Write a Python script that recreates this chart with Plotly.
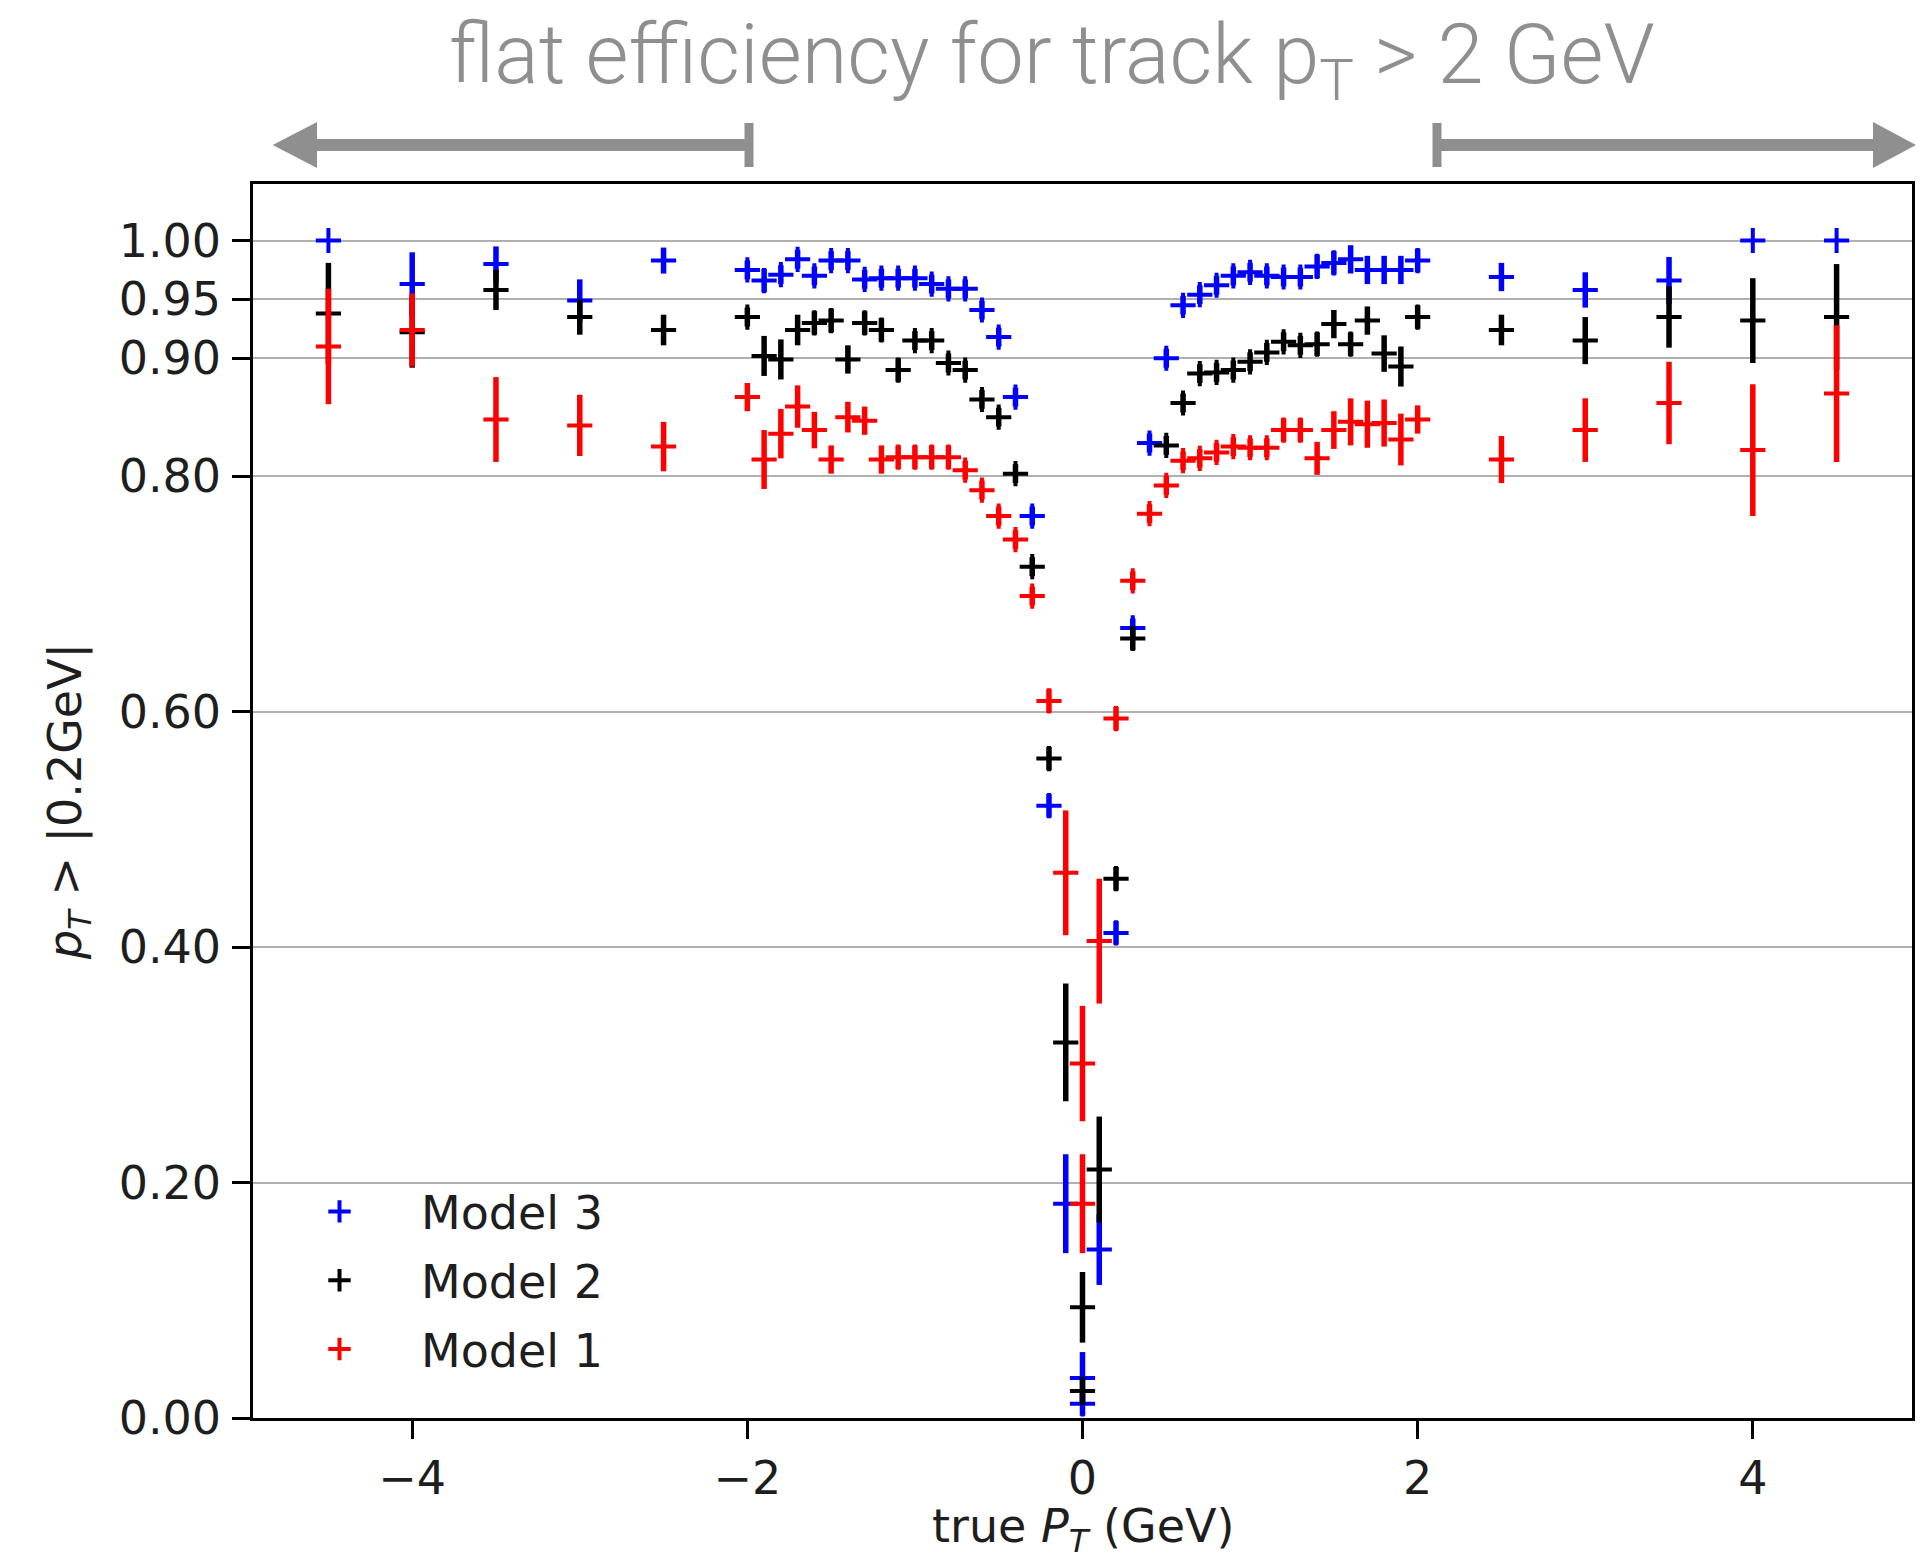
import plotly.graph_objects as go

# ---------------- data ----------------
x_pt = [-4.5, -4.0, -3.5, -3.0, -2.5,
        -2.0, -1.9, -1.8, -1.7, -1.6, -1.5, -1.4, -1.3, -1.2, -1.1, -1.0,
        -0.9, -0.8, -0.7, -0.6, -0.5, -0.4, -0.3, -0.2, -0.1, 0.0,
        0.0, 0.1, 0.2, 0.3, 0.4, 0.5, 0.6, 0.7, 0.8, 0.9, 1.0,
        1.1, 1.2, 1.3, 1.4, 1.5, 1.6, 1.7, 1.8, 1.9, 2.0,
        2.5, 3.0, 3.5, 4.0, 4.5]

eff_model3 = [1.000, 0.963, 0.980, 0.949, 0.983,
              0.975, 0.966, 0.971, 0.984, 0.970, 0.983, 0.983, 0.967, 0.968, 0.968, 0.968,
              0.963, 0.959, 0.959, 0.941, 0.918, 0.867, 0.766, 0.520, 0.182, 0.034,
              0.012, 0.143, 0.412, 0.671, 0.828, 0.900, 0.945, 0.954, 0.962, 0.970, 0.973,
              0.970, 0.969, 0.969, 0.978, 0.981, 0.984, 0.975, 0.975, 0.975, 0.983,
              0.969, 0.958, 0.966, 1.000, 1.000]
err_model3 = [0.0, 0.027, 0.015, 0.018, 0.011,
              0.008, 0.010, 0.008, 0.008, 0.008, 0.008, 0.008, 0.008, 0.008, 0.008, 0.008,
              0.008, 0.008, 0.008, 0.008, 0.008, 0.008, 0.008, 0.010, 0.042, 0.022,
              0.010, 0.030, 0.010, 0.008, 0.008, 0.008, 0.008, 0.008, 0.008, 0.008, 0.008,
              0.008, 0.008, 0.008, 0.010, 0.010, 0.012, 0.012, 0.012, 0.012, 0.010,
              0.012, 0.015, 0.020, 0.0, 0.0]

eff_model2 = [0.938, 0.922, 0.958, 0.935, 0.924,
              0.935, 0.902, 0.899, 0.924, 0.930, 0.932, 0.899, 0.930, 0.924, 0.890, 0.915,
              0.915, 0.896, 0.890, 0.865, 0.850, 0.802, 0.723, 0.560, 0.319, 0.094,
              0.023, 0.211, 0.458, 0.662, None, 0.826, 0.862, 0.887, 0.888, 0.890, 0.897,
              0.905, 0.914, 0.911, 0.912, 0.929, 0.912, 0.932, 0.904, 0.893, 0.935,
              0.924, 0.915, 0.935, 0.932, 0.935]
err_model2 = [0.043, 0.030, 0.017, 0.015, 0.013,
              0.008, 0.017, 0.017, 0.013, 0.010, 0.010, 0.012, 0.010, 0.010, 0.010, 0.008,
              0.008, 0.008, 0.008, 0.008, 0.008, 0.008, 0.008, 0.010, 0.050, 0.030,
              0.012, 0.045, 0.010, 0.010, 0.0, 0.008, 0.008, 0.008, 0.008, 0.008, 0.008,
              0.008, 0.008, 0.008, 0.010, 0.012, 0.010, 0.012, 0.0155, 0.017, 0.010,
              0.013, 0.020, 0.026, 0.036, 0.045]

eff_model1 = [0.910, 0.924, 0.848, 0.843, 0.825,
              0.867, 0.814, 0.836, 0.859, 0.839, 0.814, 0.850, 0.847, 0.814, 0.816, 0.816,
              0.816, 0.816, 0.805, 0.788, 0.766, 0.746, 0.698, 0.609, 0.463, 0.301,
              0.182, 0.405, 0.594, 0.711, 0.768, 0.792, 0.813, 0.815, 0.820, 0.825, 0.824,
              0.824, 0.839, 0.839, 0.815, 0.839, 0.846, 0.844, 0.845, 0.831, 0.848,
              0.814, 0.839, 0.862, 0.822, 0.870]
err_model1 = [0.049, 0.031, 0.036, 0.026, 0.021,
              0.012, 0.025, 0.021, 0.018, 0.0155, 0.012, 0.013, 0.012, 0.012, 0.010, 0.010,
              0.010, 0.010, 0.008, 0.008, 0.008, 0.008, 0.008, 0.010, 0.053, 0.049,
              0.042, 0.053, 0.010, 0.008, 0.008, 0.008, 0.008, 0.008, 0.008, 0.008, 0.008,
              0.008, 0.010, 0.010, 0.014, 0.016, 0.020, 0.020, 0.020, 0.022, 0.012,
              0.020, 0.027, 0.035, 0.056, 0.058]

series_names = ["Model 3", "Model 2", "Model 1"]
series_colors = ["#0000ff", "#000000", "#ff0000"]

y_tick_vals = [0.0, 0.2, 0.4, 0.6, 0.8, 0.9, 0.95, 1.0]
y_tick_text = ["0.00", "0.20", "0.40", "0.60", "0.80", "0.90", "0.95", "1.00"]
x_tick_vals = [-4, -2, 0, 2, 4]
x_tick_text = ["\u22124", "\u22122", "0", "2", "4"]

x_title = "true <i>P</i><sub><i>T</i></sub> (GeV)"
y_title = "<i>p</i><sub><i>T</i></sub> > |0.2GeV|"
header = "flat efficiency for track p<sub>T</sub> > 2 GeV"

# ---------------- figure geometry ----------------
W, H = 1926, 1563
L, R, T, B = 253, 1912, 184, 1418


def pxx(p):
    return (p - L) / (R - L)


def pxy(p):
    return (B - p) / (B - T)


FONT = "DejaVu Sans"
FS = 46
TXT = "#1e1e1e"
GRAY = "#8f8f8f"

fig = go.Figure()
for name, color, eff, err in zip(series_names, series_colors,
                                 [eff_model3, eff_model2, eff_model1],
                                 [err_model3, err_model2, err_model1]):
    fig.add_trace(go.Scatter(
        x=x_pt, y=eff, mode="markers", name=name,
        legendgroup=name,
        marker=dict(symbol="cross-thin", size=18, color=color,
                    line=dict(color=color, width=4)),
        error_y=dict(type="data", array=err, visible=True,
                     color=color, thickness=5.5, width=0),
    ))

fig.update_layout(
    width=W, height=H,
    margin=dict(l=L, r=W - R, t=T, b=H - B, autoexpand=False),
    paper_bgcolor="white", plot_bgcolor="white",
    font=dict(family=FONT, size=FS, color=TXT),
    showlegend=True,
    legend=dict(x=pxx(258), y=pxy(1175), xanchor="left", yanchor="top",
                bgcolor="rgba(0,0,0,0)", borderwidth=0,
                font=dict(family=FONT, size=FS, color=TXT),
                itemwidth=153, tracegroupgap=6),
)

fig.update_xaxes(
    automargin=False,
    range=[-4.95, 4.95], showgrid=False, zeroline=False,
    tickmode="array", tickvals=x_tick_vals, ticktext=x_tick_text,
    ticks="outside", ticklen=18, tickwidth=2.5, tickcolor="black",
    showline=True, linecolor="black", linewidth=2.5, mirror=True,
    tickfont=dict(family=FONT, size=FS, color=TXT),
)
fig.update_yaxes(
    automargin=False,
    range=[0, 1.048], showgrid=True, gridcolor="#b0b0b0", gridwidth=2,
    zeroline=False,
    tickmode="array", tickvals=y_tick_vals, ticktext=y_tick_text,
    ticks="outside", ticklen=18, tickwidth=2.5, tickcolor="black",
    ticklabelstandoff=2,
    showline=True, linecolor="black", linewidth=2.5, mirror=True,
    tickfont=dict(family=FONT, size=FS, color=TXT),
    title=dict(text=y_title,
               font=dict(family=FONT, size=FS, color=TXT), standoff=23),
)

# x-axis title, sitting at the lower edge of the canvas like the reference
fig.add_annotation(
    xref="paper", yref="paper", x=0.5, y=pxy(1562),
    xanchor="center", yanchor="bottom", showarrow=False,
    text=x_title, font=dict(family=FONT, size=FS, color=TXT),
)

# ---------------- header annotation and arrows ----------------
fig.add_annotation(
    xref="paper", yref="paper", x=pxx(1052), y=pxy(60),
    xanchor="center", yanchor="middle", showarrow=False,
    text=header,
    font=dict(family="Roboto", size=83, color=GRAY, weight=300),
)

arrow_y = 145
shapes = []
# left arrow
shapes.append(dict(type="path", xref="paper", yref="paper",
                   path=f"M {pxx(272.7)},{pxy(arrow_y)} L {pxx(317)},{pxy(122)} "
                        f"L {pxx(317)},{pxy(168)} Z",
                   fillcolor=GRAY, line=dict(width=0)))
shapes.append(dict(type="line", xref="paper", yref="paper",
                   x0=pxx(312), x1=pxx(752), y0=pxy(arrow_y), y1=pxy(arrow_y),
                   line=dict(color=GRAY, width=12)))
shapes.append(dict(type="line", xref="paper", yref="paper",
                   x0=pxx(749), x1=pxx(749), y0=pxy(123), y1=pxy(167),
                   line=dict(color=GRAY, width=9)))
# right arrow
shapes.append(dict(type="line", xref="paper", yref="paper",
                   x0=pxx(1437), x1=pxx(1437), y0=pxy(123), y1=pxy(167),
                   line=dict(color=GRAY, width=9)))
shapes.append(dict(type="line", xref="paper", yref="paper",
                   x0=pxx(1434), x1=pxx(1878), y0=pxy(arrow_y), y1=pxy(arrow_y),
                   line=dict(color=GRAY, width=12)))
shapes.append(dict(type="path", xref="paper", yref="paper",
                   path=f"M {pxx(1916)},{pxy(arrow_y)} L {pxx(1873)},{pxy(122)} "
                        f"L {pxx(1873)},{pxy(168)} Z",
                   fillcolor=GRAY, line=dict(width=0)))
fig.update_layout(shapes=shapes)

fig.write_html("out.html")
